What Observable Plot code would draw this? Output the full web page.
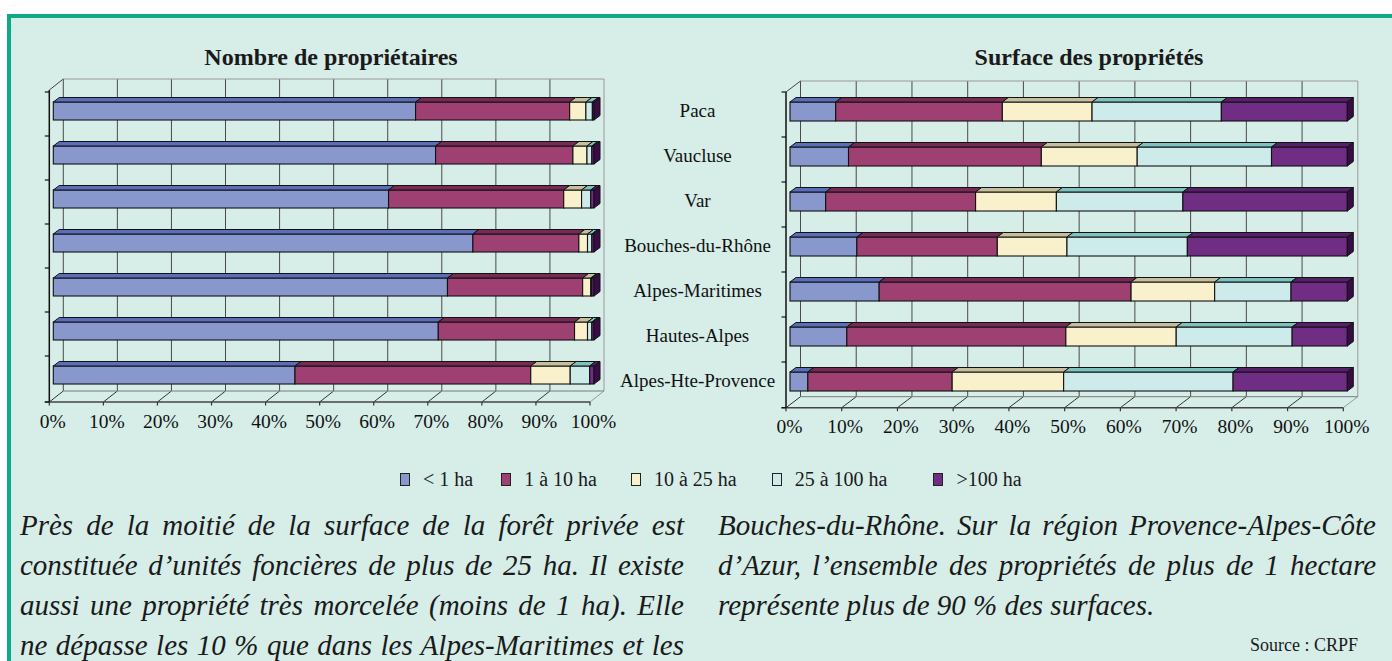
<!DOCTYPE html>
<html>
<head>
<meta charset="utf-8">
<script src="https://cdn.jsdelivr.net/npm/d3@7"></script>
<script src="https://cdn.jsdelivr.net/npm/@observablehq/plot@0.6"></script>
<style>
  body { margin: 0; background: #fff; }
  #page { position: relative; width: 1392px; height: 661px; overflow: hidden; background: #fff;
          font-family: "Liberation Serif", "Times New Roman", serif; color: #1a1a1a; }
  #panel { position: absolute; left: 7px; top: 14px; width: 1385px; height: 647px; box-sizing: border-box;
           background: #d6ede8; border-top: 4px solid #0ea987; border-left: 4px solid #0ea987; }
  .chart { position: absolute; top: 0; }
  .ttl { position: absolute; width: 400px; text-align: center; font-weight: bold; font-size: 24px; line-height: 24px; white-space: nowrap; }
  #legend { position: absolute; left: 400px; top: 469px; display: flex; font-size: 20px; line-height: 20px; }
  .item { display: flex; align-items: center; white-space: nowrap; }
  .sw { width: 10px; height: 13px; border: 1px solid #222; box-sizing: border-box; margin-right: 13px; }
  .col { position: absolute; font-style: italic; font-size: 29px; line-height: 40px; }
  .col div { text-align: justify; text-align-last: justify; white-space: nowrap; }
  .col div.last { text-align-last: left; }
  #source { position: absolute; right: 34px; top: 636px; font-size: 18px; line-height: 18px; }
</style>
</head>
<body>
<div id="page">
  <div id="panel"></div>
  <div class="ttl" id="t1" style="left:131px; top:45px;"></div>
  <div class="ttl" id="t2" style="left:889px; top:45px;"></div>
  <div class="chart" id="leftChart" style="left:0px; width:650px;"></div>
  <div class="chart" id="rightChart" style="left:620px; width:772px;"></div>
  <div id="legend"></div>
  <div class="col" id="colL" style="left:20px; top:505px; width:664px;"></div>
  <div class="col" id="colR" style="left:718px; top:505px; width:658px;"></div>
  <div id="source"></div>
</div>
<script>
// ---------- data ----------
const regions = ["Paca", "Vaucluse", "Var", "Bouches-du-Rhône", "Alpes-Maritimes", "Hautes-Alpes", "Alpes-Hte-Provence"];
const classes = ["< 1 ha", "1 à 10 ha", "10 à 25 ha", "25 à 100 ha", ">100 ha"];
const frontColors = ["#8898cc", "#9e4072", "#f9f1cb", "#ceebeb", "#702d84"];
const topColors   = ["#5a6db8", "#772a56", "#c6bf9b", "#7cc2bf", "#56206a"];
const sideColor = "#3a0c47";

// Nombre de propriétaires (%), per size class, one value per region
const ownersLt1    = [67.0, 70.7, 62.0, 77.6, 72.9, 71.2, 44.7];
const owners1to10  = [28.5, 25.4, 32.4, 19.6, 25.0, 25.2, 43.6];
const owners10to25 = [3.0, 2.6, 3.3, 1.6, 1.5, 2.4, 7.3];
const owners25to100 = [1.2, 0.9, 1.7, 0.8, 0.2, 0.8, 3.6];
const ownersGt100  = [0.3, 0.4, 0.6, 0.4, 0.4, 0.4, 0.8];

// Surface des propriétés (%)
const surfLt1    = [8.2, 10.5, 6.4, 12.0, 16.0, 10.2, 3.2];
const surf1to10  = [29.9, 34.6, 26.9, 25.2, 45.2, 39.3, 25.9];
const surf10to25 = [16.1, 17.2, 14.5, 12.5, 15.0, 19.8, 20.0];
const surf25to100 = [23.2, 24.1, 22.7, 21.6, 13.7, 20.8, 30.4];
const surfGt100  = [22.6, 13.6, 29.5, 28.7, 10.1, 9.9, 20.5];

const xTicks = [0, 10, 20, 30, 40, 50, 60, 70, 80, 90, 100];
const xTickLabels = ["0%", "10%", "20%", "30%", "40%", "50%", "60%", "70%", "80%", "90%", "100%"];

const titleLeft = "Nombre de propriétaires";
const titleRight = "Surface des propriétés";
const linesLeft = [
  "Près de la moitié de la surface de la forêt privée est",
  "constituée d’unités foncières de plus de 25 ha. Il existe",
  "aussi une propriété très morcelée (moins de 1 ha). Elle",
  "ne dépasse les 10 % que dans les Alpes-Maritimes et les"
];
const linesRight = [
  "Bouches-du-Rhône. Sur la région Provence-Alpes-Côte",
  "d’Azur, l’ensemble des propriétés de plus de 1 hectare",
  "représente plus de 90 % des surfaces."
];
const sourceText = "Source : CRPF";

// ---------- helpers ----------
function stackRows(series) {
  const rows = [];
  regions.forEach((r, i) => {
    let acc = 0;
    classes.forEach((c, k) => {
      const v = series[k][i];
      rows.push({region: r, cls: c, k, x1: acc, x2: acc + v});
      acc += v;
    });
  });
  return rows;
}

const FONT = "Liberation Serif, Times New Roman, serif";

function chart({rows, width, height, mt, mb, ml, mr, labels, wdx}) {
  const BDX = 4, BDY = -3;      // position of bars inside the 3D box
  const FDX = 6, FDY = -4.5;    // bar depth
  const WDX = wdx, WDY = -11;   // back wall depth

  const walls = (index, scales, values, dims) => {
    const x = scales.x, y = scales.y;
    const g = d3.create("svg:g").attr("fill", "none");
    const t0 = dims.marginTop, t1 = dims.height - dims.marginBottom;
    const x0 = x(0), x100 = x(100);
    const line = (a, b, c, d, stroke, w = 1) =>
      g.append("line").attr("x1", a).attr("y1", b).attr("x2", c).attr("y2", d)
        .attr("stroke", stroke).attr("stroke-width", w);
    xTicks.forEach(t => line(x(t) + WDX, t0 + WDY, x(t) + WDX, t1 + WDY, t === 100 ? "#9a9a9a" : "#4a4a4a"));
    xTicks.forEach(t => line(x(t), t1, x(t) + WDX, t1 + WDY, t === 100 ? "#9a9a9a" : "#333"));
    line(x0 + WDX, t0 + WDY, x100 + WDX, t0 + WDY, "#9a9a9a");
    line(x0 + WDX, t1 + WDY, x100 + WDX, t1 + WDY, "#7a7a7a");
    line(x0 - 4.5, t1, x100, t1, "#444", 1.5);
    xTicks.forEach(t => line(x(t), t1, x(t), t1 + 3.5, "#333", 1.2));
    line(x0, t0, x0, t1, "#111", 1.5);
    line(x0, t0, x0 + WDX, t0 + WDY, "#444");
    const bw = typeof y.bandwidth === "function" ? y.bandwidth() : (t1 - t0) / regions.length * 0.42;
    const step = typeof y.step === "function" ? y.step() : (t1 - t0) / regions.length;
    regions.forEach(r => {
      const yb = y(r) + bw / 2 - step / 2;
      line(x0 - 4.5, yb, x0, yb, "#111", 1.2);
    });
    line(x0 - 4.5, t1, x0, t1, "#111", 1.2);
    return g.node();
  };

  const faces = (index, scales) => {
    const x = scales.x, y = scales.y;
    const bw = typeof y.bandwidth === "function" ? y.bandwidth() : 18.7;
    const g = d3.create("svg:g").attr("stroke", "#111").attr("stroke-width", 1).attr("stroke-linejoin", "round");
    rows.forEach(r => {
      const xa = x(r.x1) + BDX, xb = x(r.x2) + BDX;
      const yt = y(r.region) + BDY, yb = yt + bw;
      g.append("path").attr("fill", topColors[r.k])
        .attr("d", `M${xa},${yt}L${xb},${yt}L${xb + FDX},${yt + FDY}L${xa + FDX},${yt + FDY}Z`);
      if (r.k === classes.length - 1) {
        g.append("path").attr("fill", sideColor)
          .attr("d", `M${xb},${yt}L${xb + FDX},${yt + FDY}L${xb + FDX},${yb + FDY}L${xb},${yb}Z`);
      }
    });
    return g.node();
  };

  return Plot.plot({
    width, height,
    marginTop: mt, marginBottom: mb, marginLeft: ml, marginRight: mr,
    style: {background: "transparent", fontFamily: FONT, fontSize: "19px", color: "#111", overflow: "visible", maxWidth: "none"},
    x: {domain: [0, 100], axis: null},
    y: {domain: regions, paddingInner: 0.58, paddingOuter: 0.29, axis: null},
    color: {domain: classes, range: frontColors},
    marks: [
      walls,
      Plot.barX(rows, {x1: "x1", x2: "x2", y: "region", fill: "cls", stroke: "#111", strokeWidth: 1.1, dx: BDX, dy: BDY}),
      faces,
      Plot.text(xTicks, {x: d => d, text: (d, i) => xTickLabels[i], frameAnchor: "bottom", dy: 25, dx: 3,
        fontSize: 19.5, fontFamily: FONT, fill: "#111"}),
      labels ? Plot.text(regions, {y: d => d, text: d => d, frameAnchor: "left", dx: -89, dy: BDY - 1,
        textAnchor: "middle", fontSize: 19, fontFamily: FONT, fill: "#111"}) : null
    ]
  });
}

// ---------- build ----------
const ownersRows = stackRows([ownersLt1, owners1to10, owners10to25, owners25to100, ownersGt100]);
const surfRows = stackRows([surfLt1, surf1to10, surf10to25, surf25to100, surfGt100]);

document.getElementById("leftChart").append(
  chart({rows: ownersRows, width: 650, height: 450, mt: 90, mb: 48, ml: 49.3, mr: 60, labels: false, wdx: 14})
);
document.getElementById("rightChart").append(
  chart({rows: surfRows, width: 772, height: 460, mt: 92, mb: 52.3, ml: 166, mr: 48.7, labels: true, wdx: 14.5})
);

document.getElementById("t1").textContent = titleLeft;
document.getElementById("t2").textContent = titleRight;

const legend = document.getElementById("legend");
const legendGaps = [0, 28, 34, 35, 46];
classes.forEach((c, k) => {
  const item = document.createElement("div");
  item.className = "item";
  item.style.marginLeft = legendGaps[k] + "px";
  const sw = document.createElement("span");
  sw.className = "sw";
  sw.style.background = frontColors[k];
  const lab = document.createElement("span");
  lab.textContent = c;
  item.append(sw, lab);
  legend.append(item);
});

function fillCol(id, lines, lastLeft) {
  const el = document.getElementById(id);
  lines.forEach((t, i) => {
    const d = document.createElement("div");
    d.textContent = t;
    if (lastLeft && i === lines.length - 1) d.className = "last";
    el.append(d);
  });
}
fillCol("colL", linesLeft, false);
fillCol("colR", linesRight, true);
document.getElementById("source").textContent = sourceText;
</script>
</body>
</html>
